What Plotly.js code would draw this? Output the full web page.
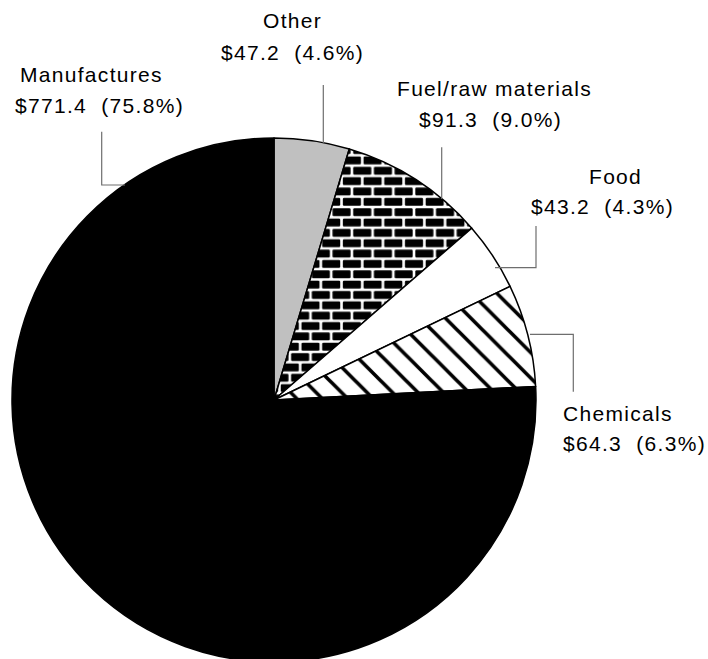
<!DOCTYPE html>
<html>
<head>
<meta charset="utf-8">
<script src="https://cdn.plot.ly/plotly-3.0.1.min.js"></script>
<style>
html, body { margin: 0; padding: 0; overflow: hidden; background: #fff; }
#chart { width: 708px; height: 662px; }
.annotation-text { letter-spacing: 1.3px; }
</style>
</head>
<body>
<div id="chart"></div>
<svg width="0" height="0" style="position:absolute;left:0;top:0">
  <defs>
    <pattern id="brickfill" patternUnits="userSpaceOnUse" x="0" y="0" width="20.7" height="20.7">
      <rect x="0" y="0" width="20.7" height="20.7" fill="#ffffff"/>
      <rect x="1.3" y="1.3" width="18.1" height="7.7" rx="1.2" fill="#000000"/>
      <rect x="-9.05" y="11.65" width="18.1" height="7.7" rx="1.2" fill="#000000"/>
      <rect x="11.65" y="11.65" width="18.1" height="7.7" rx="1.2" fill="#000000"/>
    </pattern>
  </defs>
</svg>
<script>
// ---- data ----
const categories = ['Other', 'Fuel/raw materials', 'Food', 'Chemicals', 'Manufactures'];
const values = [47.2, 91.3, 43.2, 64.3, 771.4];
const percents = [4.6, 9.0, 4.3, 6.3, 75.8];

// ---- styles ----
const sliceColors = ['#c0c0c0', '#000000', '#ffffff', '#ffffff', '#000000'];
const patternShapes = ['', '+', '', '\\', ''];
const patternFg = ['#000000', '#ffffff', '#000000', '#000000', '#000000'];
const patternBg = ['#c0c0c0', '#000000', '#ffffff', '#ffffff', '#000000'];
const patternSize = [10, 10, 10, 18, 10];
const patternSolidity = [0.3, 0.25, 0.3, 0.2, 0.3];

// ---- layout geometry (pixels) ----
const W = 708, H = 662;
const M = {l: 12, r: 172, t: 138, b: 0};
const PW = W - M.l - M.r, PH = H - M.t - M.b;
const X = px => (px - M.l) / PW;
const Y = py => 1 - (py - M.t) / PH;

// label line centres [x1, y1, x2, y2] in pixels
const labelPos = [
  [292.5, 20.0, 292.5, 52.0],   // Other
  [494.5, 88.5, 490.5, 119.5],  // Fuel
  [615.0, 176.5, 602.5, 206.0], // Food
  [617.5, 413.5, 634.5, 443.5], // Chemicals
  [91.5, 74.5, 99.0, 105.5]     // Manufactures
];
// leader line polylines in pixels
const leaders = [
  [[323.3, 85], [323.3, 143]],
  [[441.7, 147.3], [441.7, 199]],
  [[536, 226], [536, 267.7], [495, 267.7]],
  [[530, 334.3], [573.3, 334.3], [573.3, 391.7]],
  [[101.7, 131.7], [101.7, 185], [125, 185]]
];

const fontSpec = {family: '"Liberation Sans", Arial, sans-serif', size: 21, color: '#000'};
const annotations = [];
categories.forEach((c, i) => {
  const p = labelPos[i];
  annotations.push({
    xref: 'paper', yref: 'paper', x: X(p[0]), y: Y(p[1]),
    xanchor: 'center', yanchor: 'middle', showarrow: false,
    text: c, font: fontSpec
  });
  annotations.push({
    xref: 'paper', yref: 'paper', x: X(p[2]), y: Y(p[3]),
    xanchor: 'center', yanchor: 'middle', showarrow: false,
    text: '$' + values[i].toFixed(1) + ' \u00a0(' + percents[i].toFixed(1) + '%)',
    font: fontSpec
  });
});

const shapes = leaders.map(pts => ({
  type: 'path', xref: 'paper', yref: 'paper',
  path: pts.map((pt, k) => (k ? 'L' : 'M') + X(pt[0]) + ',' + Y(pt[1])).join(' '),
  line: {color: '#6e6e6e', width: 1.2}
}));

const trace = {
  type: 'pie',
  labels: categories,
  values: values,
  sort: false,
  direction: 'clockwise',
  rotation: 0,
  textinfo: 'none',
  hoverinfo: 'none',
  showlegend: false,
  domain: {x: [0, 1], y: [0, 1]},
  marker: {
    colors: sliceColors,
    line: {color: '#000000', width: 1.5},
    pattern: {
      shape: patternShapes,
      fgcolor: patternFg,
      bgcolor: patternBg,
      size: patternSize,
      solidity: patternSolidity,
      fillmode: 'replace'
    }
  }
};

const layout = {
  width: W, height: H,
  margin: M,
  paper_bgcolor: '#ffffff',
  plot_bgcolor: '#ffffff',
  showlegend: false,
  annotations: annotations,
  shapes: shapes
};

function applyBrick() {
  const slices = document.querySelectorAll('#chart g.slice path.surface');
  if (slices.length > 1) {
    slices[1].style.fill = 'url(#brickfill)';
  }
}

Plotly.newPlot('chart', [trace], layout, {staticPlot: true, displayModeBar: false}).then(gd => {
  applyBrick();
  gd.on('plotly_afterplot', applyBrick);
});
</script>
</body>
</html>
